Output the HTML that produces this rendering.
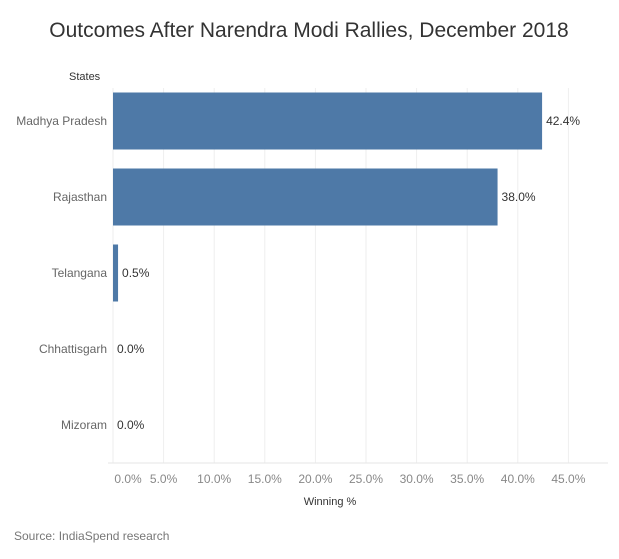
<!DOCTYPE html>
<html><head><meta charset="utf-8"><style>
body{margin:0;background:#fff;font-family:"Liberation Sans",sans-serif;}
svg{display:block}
</style></head><body>
<svg width="619" height="559">
<text x="309" y="37" text-anchor="middle" font-size="21" fill="#333">Outcomes After Narendra Modi Rallies, December 2018</text>
<text x="69" y="80" font-size="11" fill="#333">States</text>
<text x="330" y="505" text-anchor="middle" font-size="11" fill="#333">Winning %</text>
<text x="14" y="540" font-size="12" fill="#777">Source: IndiaSpend research</text>
<g id="grid"></g><g id="bars"></g><g id="xt"></g>
</svg>
<script>
const states=["Madhya Pradesh","Rajasthan","Telangana","Chhattisgarh","Mizoram"];
const values=[42.4,38.0,0.5,0.0,0.0];
const ticks=[0,5,10,15,20,25,30,35,40,45];
const ns="http://www.w3.org/2000/svg";
const x0=113,pxPer=10.12,yTop=83,rowH=76,barH=57;
const X=v=>x0+v*pxPer, Y=i=>yTop+i*rowH+rowH/2;
function mk(t,a,p){const e=document.createElementNS(ns,t);for(const k in a)e.setAttribute(k,a[k]);p.appendChild(e);return e;}
const g=document.getElementById('grid'),b=document.getElementById('bars'),xt=document.getElementById('xt');
ticks.forEach(t=>{
 const l=mk('line',{x1:X(t),x2:X(t),y1:88,y2:463,stroke:'#eee','stroke-width':1},g);
 
 
 const tx=mk('text',{x:t===0?X(t)+15:X(t),y:483,'text-anchor':'middle','font-size':12,fill:'#888'},xt);
 tx.textContent=t.toFixed(1)+'%';
 
 
});
const ax=mk('line',{x1:108,x2:608,y1:463,y2:463,stroke:'#e6e6e6'},g);


states.forEach((s,i)=>{
 const cy=Y(i);
 const r=mk('rect',{x:x0,y:cy-barH/2,width:Math.max(0,X(values[i])-x0),height:barH,fill:'#4e79a7'},b);
 
 
 const lb=mk('text',{x:107,y:cy+4,'text-anchor':'end','font-size':12,fill:'#666'},b);
 lb.textContent=s;
 
 
 const v=mk('text',{x:X(values[i])+4,y:cy+4,'font-size':12,fill:'#333'},b);
 v.textContent=values[i].toFixed(1)+'%';
 
 
});
</script>
</body></html>
